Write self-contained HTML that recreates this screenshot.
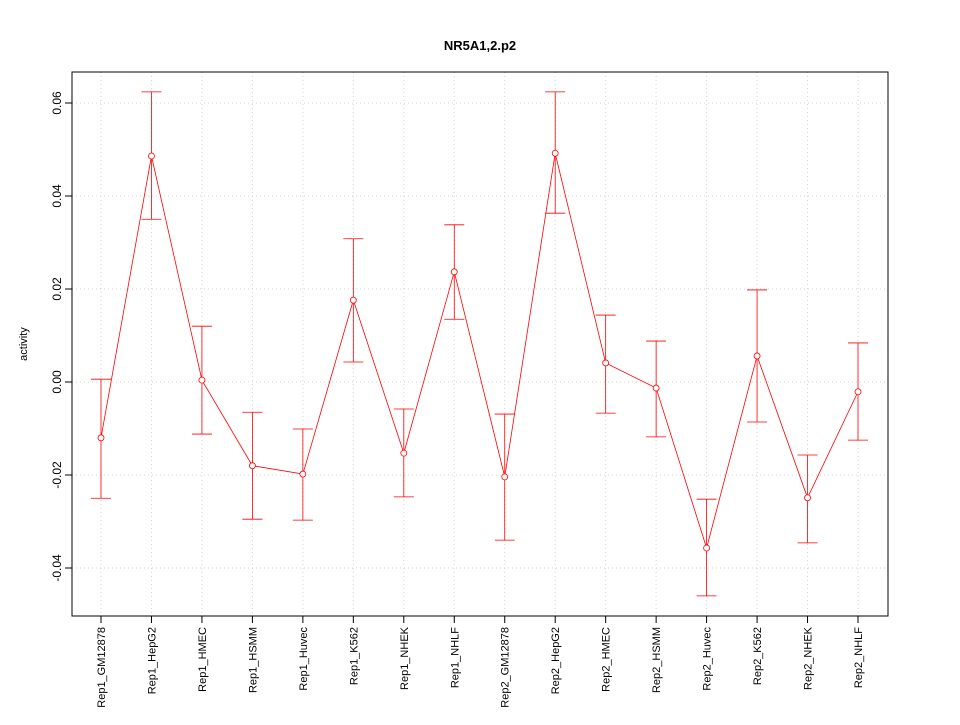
<!DOCTYPE html>
<html><head><meta charset="utf-8"><style>
html,body{margin:0;padding:0;background:#fff;}
svg text{font-family:"Liberation Sans",sans-serif;}
</style></head><body>
<svg id="chart" width="960" height="720" xmlns="http://www.w3.org/2000/svg">
<text x="480" y="50" text-anchor="middle" font-size="13" font-weight="bold">NR5A1,2.p2</text>
<text transform="translate(27,344) rotate(-90)" text-anchor="middle" font-size="11">activity</text>
<g id="grid"></g><g id="axes"></g><g id="series"></g>
<rect x="72" y="72" width="816" height="544" fill="none" stroke="#000"/>
</svg>
<script>
const categories=["Rep1_GM12878","Rep1_HepG2","Rep1_HMEC","Rep1_HSMM","Rep1_Huvec","Rep1_K562","Rep1_NHEK","Rep1_NHLF","Rep2_GM12878","Rep2_HepG2","Rep2_HMEC","Rep2_HSMM","Rep2_Huvec","Rep2_K562","Rep2_NHEK","Rep2_NHLF"];
const values=[-0.012,0.0486,0.0004,-0.018,-0.0198,0.0176,-0.0153,0.0237,-0.0204,0.0492,0.0041,-0.0013,-0.0357,0.0056,-0.0249,-0.0021];
const upper=[0.0006,0.0624,0.012,-0.0065,-0.0101,0.0308,-0.0058,0.0338,-0.0069,0.0624,0.0144,0.0088,-0.0252,0.0198,-0.0157,0.0084];
const lower=[-0.025,0.035,-0.0112,-0.0295,-0.0297,0.0043,-0.0247,0.0135,-0.034,0.0363,-0.0067,-0.0118,-0.046,-0.0086,-0.0346,-0.0125];
const yTicks=[-0.04,-0.02,0.00,0.02,0.04,0.06];
const yTickLabels=["-0.04","-0.02","0.00","0.02","0.04","0.06"];
const NS="http://www.w3.org/2000/svg";
const x=i=>101+i*(757/15);
const y=v=>382-v*4650;
function mk(parent,tag,attrs){const e=document.createElementNS(NS,tag);for(const k in attrs)e.setAttribute(k,attrs[k]);document.getElementById(parent).appendChild(e);return e;}
yTicks.forEach((t,i)=>{
 let g=mk('grid','line',{x1:72,x2:888,y1:y(t),y2:y(t),stroke:'#d3d3d3','stroke-dasharray':'1,3'});
 
 
 let tk=mk('axes','line',{x1:65,x2:72,y1:y(t),y2:y(t),stroke:'#000'});
 
 
 let tx=mk('axes','text',{transform:`translate(61,${y(t)}) rotate(-90)`,'text-anchor':'middle','font-size':12});
 tx.textContent=yTickLabels[i];
 
 
});
categories.forEach((c,i)=>{
 let g=mk('grid','line',{x1:x(i),x2:x(i),y1:72,y2:616,stroke:'#d3d3d3','stroke-dasharray':'1,3'});
 
 
 let tk=mk('axes','line',{x1:x(i),x2:x(i),y1:616,y2:623,stroke:'#000'});
 
 
 let tx=mk('axes','text',{transform:`translate(${x(i)+4},627) rotate(-90)`,'text-anchor':'end','font-size':11});
 tx.textContent=c;
 
 
});
let d=values.map((v,i)=>(i?'L':'M')+x(i)+','+y(v)).join(' ');
let ln=mk('series','path',{d:d,fill:'none',stroke:'#ff0000','stroke-width':0.8});


values.forEach((v,i)=>{
 let e=mk('series','line',{x1:x(i),x2:x(i),y1:y(upper[i]),y2:y(lower[i]),stroke:'#ff0000','stroke-width':0.8});
 
 
 [upper[i],lower[i]].forEach(b=>{
  let c=mk('series','line',{x1:x(i)-10,x2:x(i)+10,y1:y(b),y2:y(b),stroke:'#ff0000','stroke-width':0.8});
  
  
 });
 let p=mk('series','circle',{cx:x(i),cy:y(v),r:3,fill:'#fff',stroke:'#ff0000','stroke-width':0.8});
 
 
});
</script>
</body></html>
